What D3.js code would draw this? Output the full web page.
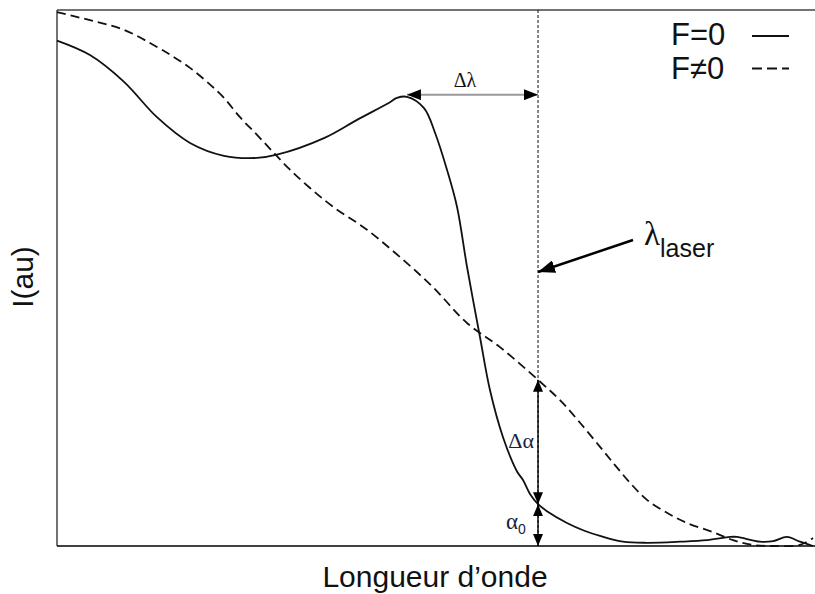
<!DOCTYPE html>
<html><head><meta charset="utf-8">
<script src="https://cdn.jsdelivr.net/npm/d3@7"></script>
<style>body{margin:0;background:#fff}svg{display:block}</style>
</head><body>
<script>
// ---- data (arbitrary units: wavelength 0..100, intensity 0..100) ----
const solidX = [0,4.35,8.84,13.19,17.55,22.03,26.39,29.02,35.22,39.58,43.93,44.85,46.17,48.42,49.87,51.45,52.77,54.09,55.80,57.12,58.84,60.69,61.48,62.40,63.46,64.64,67.28,69.66,71.64,74.67,77.84,82.19,85.75,88.79,89.71,92.74,94.46,96.31,98.02,99.74];
const solidY = [94.3,91.6,86.6,80.0,75.2,72.8,72.4,73.0,76.1,79.5,82.8,83.6,83.8,81.7,77.1,70.2,63.3,52.1,39.0,29.1,20.3,13.9,12.3,9.7,7.8,6.5,4.3,2.8,1.9,0.8,0.6,0.8,1.1,1.7,1.7,0.8,0.9,1.7,0.8,0.0];
const dashX = [0,4.35,8.84,13.19,15.44,17.55,19.79,22.03,24.14,26.39,28.63,30.74,33.38,36.41,40.90,45.25,49.60,54.09,58.44,63.46,66.36,69.00,71.64,73.61,75.59,77.84,80.47,83.11,86.54,89.18,91.82,94.46,98.02,99.74];
const dashY = [99.6,98.1,96.3,93.1,91.2,89.2,86.6,83.6,80.0,76.7,73.3,70.2,66.8,63.3,59.0,53.9,48.3,41.6,37.1,31.0,27.2,23.0,18.5,15.1,11.8,8.6,6.2,4.3,2.6,1.1,0.2,0.0,0.2,1.5];
const seriesLabels = ["F=0", "F\u22600"];
const laserX = 63.46;       // λ_laser
const peakX = 46.17;        // peak of F=0 curve
const peakY = 84.2;
const alpha0 = 7.8;         // F=0 intensity at λ_laser
const alphaF = 31.0;        // F≠0 intensity at λ_laser

const W = 815, H = 594;
const x = d3.scaleLinear().domain([0,100]).range([57,815]);
const y = d3.scaleLinear().domain([0,100]).range([546,10]);

const svg = d3.select("body").append("svg").attr("width",W).attr("height",H);
const defs = svg.append("defs");
function marker(id, len, half, color){
  defs.append("marker").attr("id",id).attr("markerUnits","userSpaceOnUse")
    .attr("viewBox",`0 ${-half} ${len} ${2*half}`).attr("refX",len).attr("refY",0)
    .attr("markerWidth",len).attr("markerHeight",2*half).attr("orient","auto-start-reverse")
    .append("path").attr("d",`M0,${-half}L${len},0L0,${half}Z`).attr("fill",color);
}
marker("hL",14,5.5,"#000");
marker("hA",12,5,"#000");
marker("hBig",17,6.5,"#000");

// frame
svg.append("line").attr("x1",x(0)).attr("x2",x(100)).attr("y1",y(100)).attr("y2",y(100)).attr("stroke","#444").attr("stroke-width",1.5);
svg.append("line").attr("x1",x(0)).attr("x2",x(0)).attr("y1",y(100)).attr("y2",y(0)).attr("stroke","#444").attr("stroke-width",1.5);
svg.append("line").attr("x1",x(0)).attr("x2",x(100)).attr("y1",y(0)).attr("y2",y(0)).attr("stroke","#000").attr("stroke-width",1.5);

// laser vertical dotted line
svg.append("line").attr("x1",x(laserX)).attr("x2",x(laserX)).attr("y1",y(100)).attr("y2",y(0))
  .attr("stroke","#222").attr("stroke-width",1.1).attr("stroke-dasharray","3,2");

const line = d3.line().x(d=>x(d[0])).y(d=>y(d[1])).curve(d3.curveCatmullRom.alpha(0.5));
svg.append("path").attr("d",line(d3.zip(solidX,solidY))).attr("fill","none").attr("stroke","#111").attr("stroke-width",1.8);
svg.append("path").attr("d",line(d3.zip(dashX,dashY))).attr("fill","none").attr("stroke","#111").attr("stroke-width",1.8).attr("stroke-dasharray","9,5");

// Δλ arrow
svg.append("line").attr("x1",x(peakX)).attr("x2",x(laserX)).attr("y1",y(peakY)).attr("y2",y(peakY))
  .attr("stroke","#999").attr("stroke-width",2).attr("marker-start","url(#hL)").attr("marker-end","url(#hL)");
svg.append("text").attr("x",465).attr("y",y(peakY)-8).attr("text-anchor","middle")
  .attr("font-family","'Liberation Serif','DejaVu Serif',serif").attr("font-size",20).attr("fill","#111").text("\u0394\u03bb");

// Δα and α0 arrows
svg.append("line").attr("x1",x(laserX)).attr("x2",x(laserX)).attr("y1",y(alphaF)).attr("y2",y(alpha0))
  .attr("stroke","#000").attr("stroke-width",1.4).attr("marker-start","url(#hA)").attr("marker-end","url(#hA)");
svg.append("line").attr("x1",x(laserX)).attr("x2",x(laserX)).attr("y1",y(alpha0)).attr("y2",y(0))
  .attr("stroke","#000").attr("stroke-width",1.4).attr("marker-start","url(#hA)").attr("marker-end","url(#hA)");
svg.append("text").attr("x",x(laserX)-4).attr("y",(y(alphaF)+y(alpha0))/2+6).attr("text-anchor","end")
  .attr("font-family","'Liberation Serif','DejaVu Serif',serif").attr("font-size",22).attr("fill","#1a2340").text("\u0394\u03b1");
const a0 = svg.append("text").attr("x",x(laserX)-32).attr("y",y(alpha0/2)+4)
  .attr("font-family","'Liberation Serif','DejaVu Serif',serif").attr("font-size",23).attr("fill","#1a2340");
a0.append("tspan").text("\u03b1");
a0.append("tspan").attr("dy",5).attr("font-family","'Liberation Sans',Arial,sans-serif").attr("font-size",14).text("0");

// λ_laser annotation arrow
svg.append("line").attr("x1",633).attr("x2",x(laserX)).attr("y1",240).attr("y2",272)
  .attr("stroke","#000").attr("stroke-width",2.5).attr("marker-end","url(#hBig)");
const lt = svg.append("text").attr("x",644).attr("y",245).attr("fill","#111");
lt.append("tspan").attr("font-family","'Liberation Serif','DejaVu Serif',serif").attr("font-size",33).text("\u03bb");
lt.append("tspan").attr("dy",12).attr("font-family","'Liberation Sans',Arial,sans-serif").attr("font-size",25).text("laser");

// legend
const leg = [{t:seriesLabels[0],dash:null,ly:36,ty:45},{t:seriesLabels[1],dash:"10,5",ly:68.5,ty:79}];
leg.forEach(d=>{
  svg.append("text").attr("x",671).attr("y",d.ty).attr("font-family","'Liberation Sans',Arial,sans-serif")
    .attr("font-size",31).attr("fill","#111").text(d.t);
  svg.append("line").attr("x1",752).attr("x2",789).attr("y1",d.ly).attr("y2",d.ly).attr("stroke","#111")
    .attr("stroke-width",1.8).attr("stroke-dasharray",d.dash);
});

// axis labels
svg.append("text").attr("x",435).attr("y",587).attr("text-anchor","middle")
  .attr("font-family","'Liberation Sans',Arial,sans-serif").attr("font-size",30).attr("fill","#111").text("Longueur d\u2019onde");
svg.append("text").attr("transform","translate(33,277) rotate(-90)").attr("text-anchor","middle")
  .attr("font-family","'Liberation Sans',Arial,sans-serif").attr("font-size",30).attr("fill","#111").text("I(au)");
</script>
</body></html>
